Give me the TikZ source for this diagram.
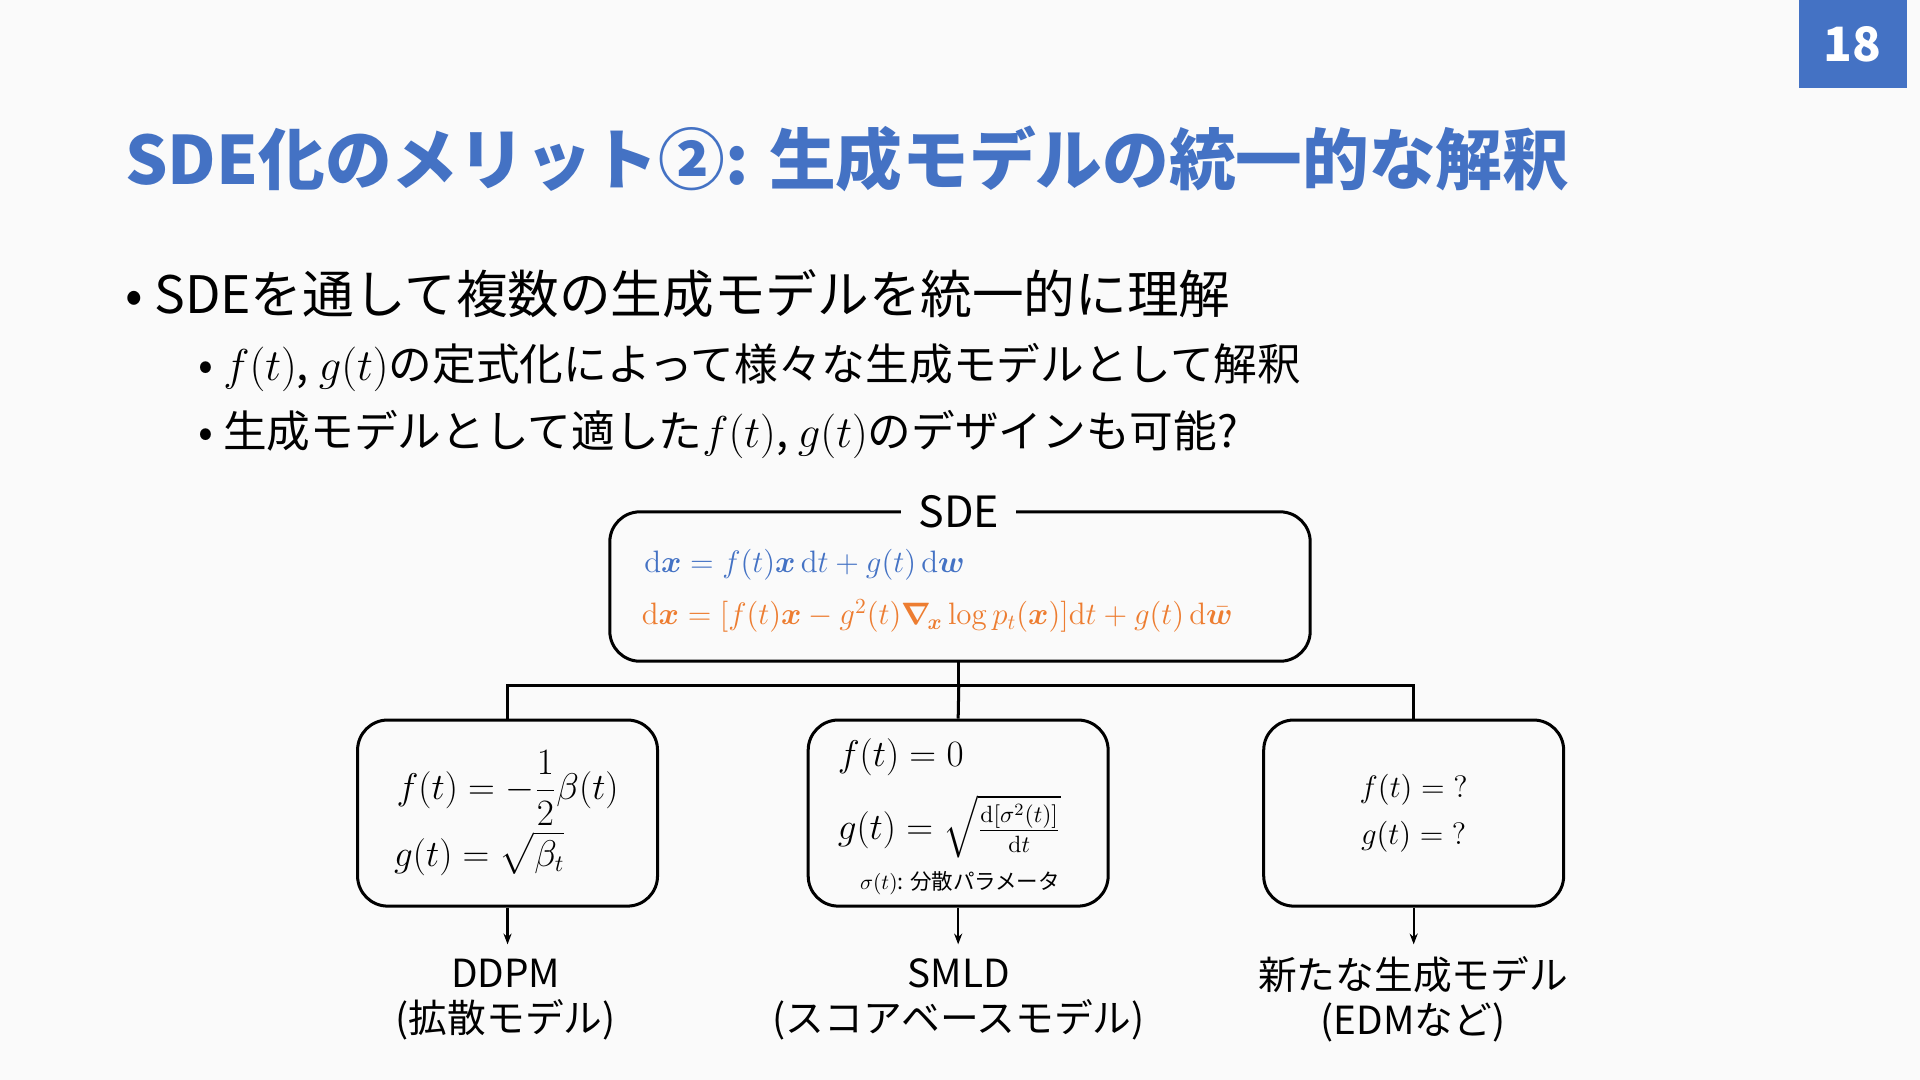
\documentclass[tikz,border=0pt]{standalone}
\usepackage{amsmath,amssymb,bm}
\usepackage[no-math]{fontspec}
\setmainfont{Noto Sans CJK JP}
\usetikzlibrary{positioning,arrows.meta}
\definecolor{slideblue}{HTML}{4472C4}
\definecolor{slideorange}{HTML}{ED7D31}
\definecolor{slidebg}{HTML}{FAFAFA}
\begin{document}
\begin{tikzpicture}
    [
        x = 0.02cm, y = -0.02cm,
        modelbox/.style = {draw, line width = 1.4pt, rounded corners = 14pt,
                minimum width = 4.9cm, minimum height = 3.04cm, align = center},
        conn/.style = {line width = 1.4pt},
        outarrow/.style = {line width = 1pt, -{Stealth[length=5pt]}},
        label/.style = {font = \fontsize{18}{21}\selectfont, align = center},
    ]

    \fill[slidebg] (0,0) rectangle (1568,882);
    \useasboundingbox (0,0) rectangle (1568,882);

    % page number and title
    \node[fill = slideblue, minimum width = 1.76cm, minimum height = 1.44cm,
        text = white, font = \bfseries\fontsize{22}{26}\selectfont] (pagenum) at (1513,36) {18};
    \node[anchor = west, text = slideblue, font = \bfseries\fontsize{31}{36}\selectfont]
        (title) at (96,130) {SDE化のメリット②: 生成モデルの統一的な解釈};

    % bullets
    \node[anchor = west, font = \fontsize{24}{28}\selectfont] (bullet1) at (96,240)
        {• SDEを通して複数の生成モデルを統一的に理解};
    \node[anchor = west, font = \fontsize{20.3}{24}\selectfont] (bullet2) at (156,300)
        {• $f(t)$, $g(t)$の定式化によって様々な生成モデルとして解釈};
    \node[anchor = west, font = \fontsize{20.3}{24}\selectfont] (bullet3) at (156,355)
        {• 生成モデルとして適した$f(t)$, $g(t)$のデザインも可能?};

    % SDE box
    \draw[conn, rounded corners = 14pt] (498,418) rectangle (1070,540);
    \coordinate (sdebottom) at (783,540);
    \node[fill = slidebg, inner xsep = 8pt, font = \fontsize{20}{24}\selectfont] (sdetitle) at (783,418) {SDE};
    \node[anchor = west, text = slideblue, font = \fontsize{14.5}{18}\selectfont] (forward) at (520,461)
        {$\mathrm{d}\bm{x} = f(t)\bm{x}\,\mathrm{d}t + g(t)\,\mathrm{d}\bm{w}$};
    \node[anchor = west, text = slideorange, font = \fontsize{14.5}{18}\selectfont] (reverse) at (518,503)
        {$\mathrm{d}\bm{x} = [f(t)\bm{x} - g^2(t)\bm{\nabla}_{\!\bm{x}}\log p_t(\bm{x})]\mathrm{d}t + g(t)\,\mathrm{d}\bar{\bm{w}}$};

    % model boxes
    \node[modelbox, font = \fontsize{16}{20}\selectfont] (ddpm) at (414.5,664)
        {$\displaystyle f(t) = -\frac{1}{2}\beta(t)$\\[2pt] $\displaystyle g(t) = \sqrt{\beta_t}\hphantom{(t)0}$};
    \node[modelbox] (smld) at (782.5,664) {};
    \node[anchor = west, font = \fontsize{16}{20}\selectfont] (smldf) at (678,618) {$f(t) = 0$};
    \node[anchor = west, font = \fontsize{16}{20}\selectfont] (smldg) at (678,675)
        {$g(t) = \sqrt{\frac{\mathrm{d}[\sigma^2(t)]}{\mathrm{d}t}}$};
    \node[font = \fontsize{10}{12}\selectfont] (smldnote) at (784,721) {$\sigma(t)$: 分散パラメータ};
    \node[modelbox, font = \fontsize{14}{22}\selectfont] (newmodel) at (1154.5,664)
        {$f(t) = {?}$\\ $g(t) = {?}$};

    % connectors
    \coordinate (split) at (783,560);
    \draw[conn] (sdebottom) -- (split);
    \draw[conn] (ddpm.north) |- (split) -| (newmodel.north);
    \draw[conn] (split) -- (smld.north);

    % outputs
    \node[label] (ddpmlabel) at (413,816) {DDPM\\(拡散モデル)};
    \node[label] (smldlabel) at (783,816) {SMLD\\(スコアベースモデル)};
    \node[label] (newlabel) at (1154,816) {新たな生成モデル\\(EDMなど)};
    \foreach \m/\l in {ddpm/ddpmlabel, smld/smldlabel, newmodel/newlabel}{
            \draw[outarrow] (\m.south) -- ++(0,30);
        }

\end{tikzpicture}
\end{document}
